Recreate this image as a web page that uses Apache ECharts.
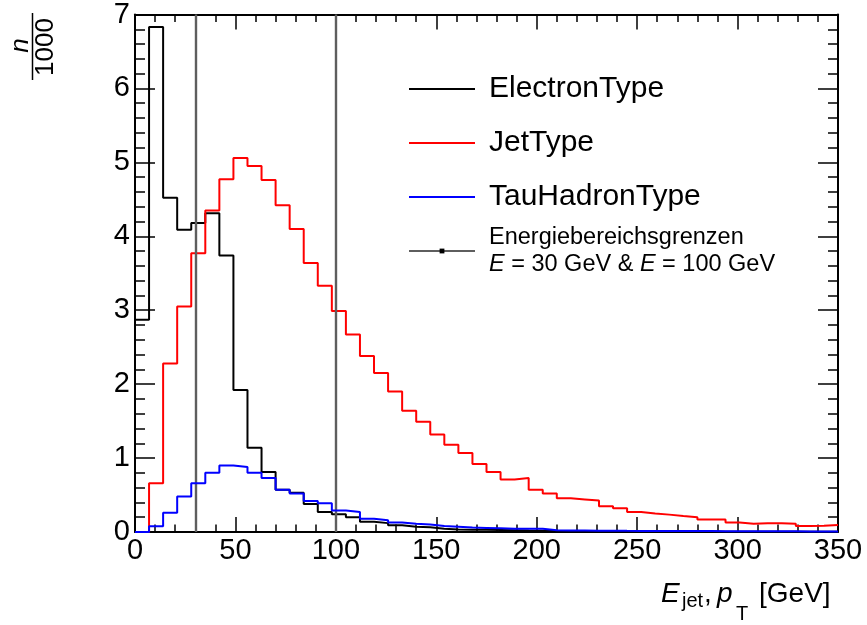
<!DOCTYPE html>
<html><head><meta charset="utf-8">
<script src="https://cdn.jsdelivr.net/npm/echarts@6/dist/echarts.min.js"></script>
<style>html,body{margin:0;padding:0;background:#fff}#c{width:867px;height:625px}</style>
</head><body><div id="c"></div>
<script>
// histogram: 50 bins of 7 GeV from 0 to 350
const binWidth = 7;
const xMin = 0, xMax = 350, xStep = 50;
const yMin = 0, yMax = 7, yStep = 1;
const electronType = [2.87, 6.83, 4.52, 4.09, 4.18, 4.31, 3.74, 1.92, 1.14, 0.81,
  0.57, 0.53, 0.38, 0.27, 0.24, 0.20, 0.14, 0.12, 0.09, 0.07,
  0.063, 0.045, 0.035, 0.032, 0.03, 0.028, 0.025, 0.02, 0.018, 0.015,
  0.012, 0.012, 0.01, 0.01, 0.009, 0.008, 0.008, 0.007, 0.007, 0.006,
  0.006, 0.005, 0.005, 0.005, 0.004, 0.004, 0.004, 0.003, 0.003, 0.003];
const jetType = [0.0, 0.66, 2.28, 3.05, 3.77, 4.35, 4.77, 5.06, 4.95, 4.76,
  4.42, 4.10, 3.64, 3.33, 2.99, 2.67, 2.38, 2.15, 1.90, 1.64,
  1.49, 1.32, 1.18, 1.07, 0.92, 0.81, 0.71, 0.73, 0.57, 0.52,
  0.455, 0.44, 0.425, 0.35, 0.32, 0.27, 0.25, 0.235, 0.215, 0.20,
  0.17, 0.17, 0.13, 0.11, 0.12, 0.12, 0.11, 0.08, 0.085, 0.095];
const tauHadronType = [0.0, 0.077, 0.26, 0.48, 0.66, 0.80, 0.90, 0.88, 0.80, 0.73,
  0.57, 0.52, 0.42, 0.39, 0.29, 0.27, 0.18, 0.16, 0.13, 0.11,
  0.10, 0.08, 0.07, 0.06, 0.055, 0.05, 0.045, 0.045, 0.045, 0.025,
  0.02, 0.02, 0.018, 0.018, 0.016, 0.015, 0.015, 0.014, 0.013, 0.012,
  0.012, 0.011, 0.01, 0.01, 0.01, 0.009, 0.009, 0.008, 0.008, 0.008];
const energyLimits = [30, 100];
const seriesNames = ['ElectronType', 'JetType', 'TauHadronType', 'Energiebereichsgrenzen'];
const seriesColors = ['#000000', '#ff0000', '#0000ff', '#5e5e5e'];

const FONT = '"Liberation Sans", Arial, Helvetica, sans-serif';

function histPoints(vals) {
  const pts = vals.map((v, i) => [i * binWidth, v]);
  pts.push([vals.length * binWidth, vals[vals.length - 1]]);
  return pts;
}

const histSeries = [electronType, jetType, tauHadronType].map((vals, k) => ({
  name: seriesNames[k],
  type: 'line',
  step: 'end',
  symbol: 'none',
  data: histPoints(vals),
  lineStyle: { color: seriesColors[k], width: 2 },
  itemStyle: { color: seriesColors[k] },
  z: 3 + k,
  animation: false
}));

const limitSeries = {
  name: seriesNames[3],
  type: 'line',
  symbol: 'rect',
  showSymbol: false,
  data: [],
  lineStyle: { color: seriesColors[3], width: 2 },
  itemStyle: { color: '#000' },
  markLine: {
    silent: true,
    symbol: 'none',
    label: { show: false },
    lineStyle: { color: seriesColors[3], width: 2.4, type: 'solid' },
    data: energyLimits.map(v => ({ xAxis: v }))
  },
  z: 2,
  animation: false
};

function xAx(pos, labels) {
  return {
    type: 'value', position: pos, min: xMin, max: xMax, interval: xStep,
    axisLine: { show: true, onZero: false, lineStyle: { color: '#000', width: 2 } },
    axisTick: { show: true, inside: true, length: 15, lineStyle: { color: '#000', width: 1.5 } },
    minorTick: { show: true, splitNumber: 5, length: 7.5, lineStyle: { color: '#000', width: 1.5 } },
    splitLine: { show: false }, minorSplitLine: { show: false },
    axisLabel: { show: labels, color: '#000', fontSize: 29, fontFamily: FONT, margin: 4 }
  };
}
function yAx(pos, labels) {
  return {
    type: 'value', position: pos, min: yMin, max: yMax, interval: yStep,
    axisLine: { show: true, onZero: false, lineStyle: { color: '#000', width: 2 } },
    axisTick: { show: true, inside: true, length: 20, lineStyle: { color: '#000', width: 1.5 } },
    minorTick: { show: true, splitNumber: 5, length: 10, lineStyle: { color: '#000', width: 1.5 } },
    splitLine: { show: false }, minorSplitLine: { show: false },
    axisLabel: { show: labels, color: '#000', fontSize: 29, fontFamily: FONT, margin: 5 }
  };
}

const chart = echarts.init(document.getElementById('c'), null, { renderer: 'canvas' });
chart.setOption({
  backgroundColor: '#fff',
  animation: false,
  grid: { left: 135, top: 14, width: 703, height: 518 },
  xAxis: [xAx('bottom', true), xAx('top', false)],
  yAxis: [yAx('left', true), yAx('right', false)],
  legend: {
    orient: 'vertical', left: 403, top: 57,
    itemWidth: 66, itemHeight: 6, itemGap: 0,
    selectedMode: false,
    data: seriesNames.map((n, k) => k < 3 ? { name: n, itemStyle: { opacity: 0 } } : { name: n }),
    textStyle: {
      fontFamily: FONT, fontSize: 30, color: '#000', lineHeight: 54, padding: [0, 0, 0, 9],
      rich: {
        s: { fontFamily: FONT, fontSize: 23.5, lineHeight: 27, color: '#000' },
        i: { fontFamily: FONT, fontSize: 23.5, lineHeight: 27, color: '#000', fontStyle: 'italic' }
      }
    },
    formatter: function (name) {
      if (name === seriesNames[3]) {
        return '{s|Energiebereichsgrenzen}\n{i|E}{s| = 30 GeV & }{i|E}{s| = 100 GeV}';
      }
      return name;
    }
  },
  series: histSeries.concat([limitSeries]),
  graphic: [
    { type: 'text', x: 661, y: 594, style: { text: 'E', font: 'italic 28px ' + FONT, fill: '#000', verticalAlign: 'middle', align: 'left' } },
    { type: 'text', x: 682, y: 601, style: { text: 'jet', font: '20px ' + FONT, fill: '#000', verticalAlign: 'middle', align: 'left' } },
    { type: 'text', x: 704, y: 594, style: { text: ',', font: '28px ' + FONT, fill: '#000', verticalAlign: 'middle', align: 'left' } },
    { type: 'text', x: 717, y: 594, style: { text: 'p', font: 'italic 28px ' + FONT, fill: '#000', verticalAlign: 'middle', align: 'left' } },
    { type: 'text', x: 736, y: 614, style: { text: 'T', font: '20px ' + FONT, fill: '#000', verticalAlign: 'middle', align: 'left' } },
    { type: 'text', x: 759, y: 594, style: { text: '[GeV]', font: '28px ' + FONT, fill: '#000', verticalAlign: 'middle', align: 'left' } },
    { type: 'text', x: 21, y: 45.5, rotation: Math.PI / 2, style: { text: 'n', font: 'italic 26px ' + FONT, fill: '#000', verticalAlign: 'middle', align: 'center' } },
    { type: 'text', x: 46, y: 47, rotation: Math.PI / 2, style: { text: '1000', font: '26px ' + FONT, fill: '#000', verticalAlign: 'middle', align: 'center' } },
    { type: 'line', shape: { x1: 32.5, y1: 13, x2: 32.5, y2: 80 }, style: { stroke: '#000', lineWidth: 1.5 } }
  ]
});
</script></body></html>
